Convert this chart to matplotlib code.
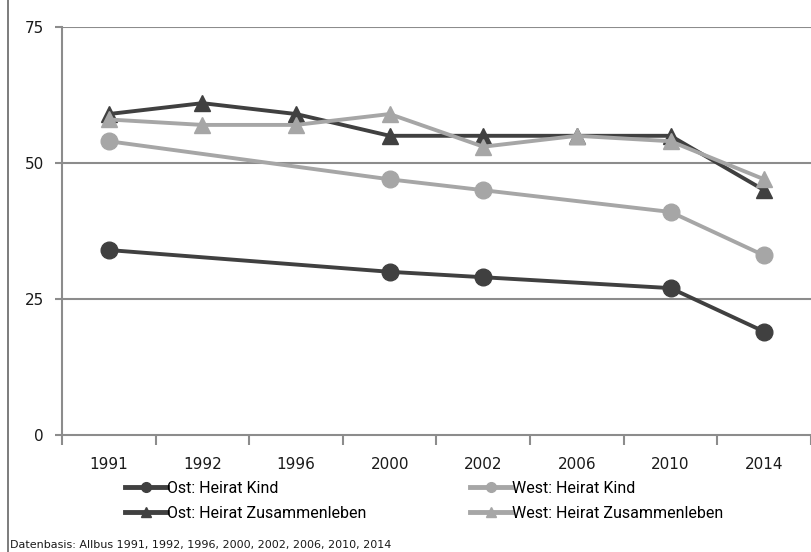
import matplotlib
matplotlib.use("Agg")
import matplotlib.pyplot as plt
from matplotlib.lines import Line2D
import numpy as np

years = ["1991", "1992", "1996", "2000", "2002", "2006", "2010", "2014"]
ost_kind = [34, None, None, 30, 29, None, 27, 19]
west_kind = [54, None, None, 47, 45, None, 41, 33]
ost_zus = [59, 61, 59, 55, 55, 55, 55, 45]
west_zus = [58, 57, 57, 59, 53, 55, 54, 47]
yticks = [0, 25, 50, 75]

DARK = "#404040"
LIGHT = "#a6a6a6"
GRID = "#8c8c8c"

W, H = 811, 552
fig = plt.figure(figsize=(W / 100, H / 100), dpi=100)
ax = fig.add_axes([62 / W, 1 - 435 / H, (W - 62) / W + 0.01, (435 - 27) / H])

def series(vals):
    xs = [i for i, v in enumerate(vals) if v is not None]
    ys = [v for v in vals if v is not None]
    return xs, ys

specs = [
    (ost_kind, DARK, "o", "Ost: Heirat Kind"),
    (west_kind, LIGHT, "o", "West: Heirat Kind"),
    (ost_zus, DARK, "^", "Ost: Heirat Zusammenleben"),
    (west_zus, LIGHT, "^", "West: Heirat Zusammenleben"),
]
handles = {}
for vals, col, mk, lab in specs:
    xs, ys = series(vals)
    (h,) = ax.plot(xs, ys, color=col, lw=2.8, marker=mk, ms=12, mec=col, mfc=col,
                   label=lab, solid_joinstyle="round", zorder=3)
    handles[lab] = h

ax.set_xlim(-0.5, 7.5 + 0.01 * W / 93.6)
ax.set_ylim(0, 75)
ax.set_yticks(yticks)
ax.set_yticklabels([str(t) for t in yticks])
ax.set_xticks(range(len(years)))
ax.set_xticklabels(years)
ax.set_xticks(np.arange(-0.5, 8, 1.0), minor=True)

ax.tick_params(axis="x", which="major", length=0, pad=16, labelsize=11, labelcolor="#1a1a1a")
ax.tick_params(axis="x", which="minor", length=7, width=1.5, color=GRID, direction="out")
ax.tick_params(axis="y", which="major", length=5, width=1.5, color=GRID, pad=8,
               labelsize=11, labelcolor="#1a1a1a")

for t in [25, 50, 75]:
    ax.axhline(t, color=GRID, lw=1.5, zorder=1)

for s in ["top", "right"]:
    ax.spines[s].set_visible(False)
for s in ["left", "bottom"]:
    ax.spines[s].set_color(GRID)
    ax.spines[s].set_linewidth(1.5)

def leg(labels, x):
    hs = [Line2D([], [], color=handles[l].get_color(), lw=3.5,
                 marker=handles[l].get_marker(), ms=7,
                 mfc=handles[l].get_color(), mec=handles[l].get_color()) for l in labels]
    lg = fig.legend(hs, labels, loc="upper left", bbox_to_anchor=(x / W, 1 - 481 / H),
                    frameon=False, handlelength=2.6, handletextpad=0.05,
                    labelspacing=0.62, borderaxespad=0, borderpad=0,
                    prop={"family": "Roboto", "size": 11.5})
    return lg

leg(["Ost: Heirat Kind", "Ost: Heirat Zusammenleben"], 125)
leg(["West: Heirat Kind", "West: Heirat Zusammenleben"], 470)

fig.text(10 / W, 1 - 550 / H,
         "Datenbasis: Allbus 1991, 1992, 1996, 2000, 2002, 2006, 2010, 2014",
         fontsize=8, color="#1a1a1a", va="bottom", ha="left")

fig.add_artist(Line2D([8 / W, 8 / W], [0, 1], transform=fig.transFigure,
                      color="#666666", lw=1.2))

fig.savefig("out.png", dpi=100)
